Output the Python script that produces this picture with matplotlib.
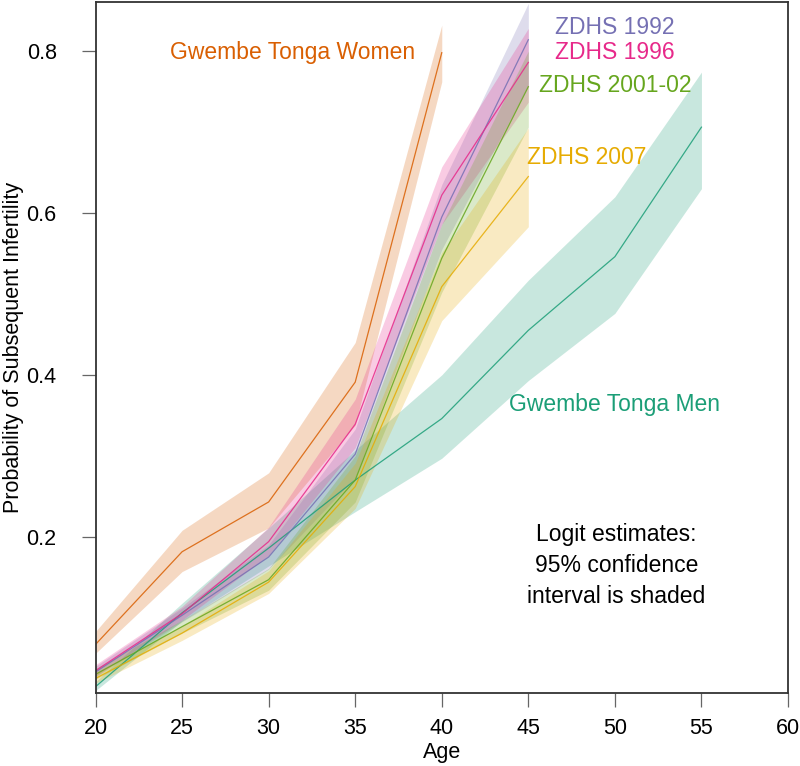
import matplotlib

matplotlib.use("Agg")
import matplotlib.pyplot as plt

plt.rcParams["font.family"] = ["Liberation Sans", "DejaVu Sans"]

# --- data (probability of subsequent infertility by age) ---
ages_w = [20, 25, 30, 35, 40]
ages_zdhs = [20, 25, 30, 35, 40, 45]
ages_m = [20, 25, 30, 35, 40, 45, 50, 55]

women = [0.067, 0.1815, 0.243, 0.391, 0.798]
women_lo = [0.056, 0.157, 0.211, 0.338, 0.762]
women_hi = [0.083, 0.208, 0.279, 0.440, 0.832]

men = [0.0148, 0.106, 0.186, 0.270, 0.346, 0.455, 0.546, 0.706]
men_lo = [0.010, 0.096, 0.164, 0.231, 0.297, 0.393, 0.476, 0.630]
men_hi = [0.021, 0.118, 0.211, 0.307, 0.400, 0.517, 0.620, 0.774]

z1992 = [0.033, 0.103, 0.175, 0.302, 0.595, 0.814]
z1992_lo = [0.027, 0.095, 0.160, 0.273, 0.555, 0.758]
z1992_hi = [0.040, 0.112, 0.190, 0.333, 0.635, 0.859]

z1996 = [0.0346, 0.105, 0.194, 0.339, 0.622, 0.786]
z1996_lo = [0.028, 0.097, 0.177, 0.310, 0.586, 0.737]
z1996_hi = [0.042, 0.114, 0.212, 0.370, 0.657, 0.828]

z2001 = [0.030, 0.089, 0.147, 0.270, 0.544, 0.756]
z2001_lo = [0.024, 0.081, 0.134, 0.243, 0.502, 0.706]
z2001_hi = [0.037, 0.097, 0.161, 0.300, 0.586, 0.800]

z2007 = [0.025, 0.081, 0.144, 0.262, 0.509, 0.645]
z2007_lo = [0.019, 0.072, 0.130, 0.235, 0.467, 0.583]
z2007_hi = [0.032, 0.090, 0.158, 0.291, 0.551, 0.705]

x_ticks = [20, 25, 30, 35, 40, 45, 50, 55, 60]
y_ticks = [0.2, 0.4, 0.6, 0.8]

# Dark2 colours
C_WOMEN, C_MEN = "#D95F02", "#1B9E77"
C_1992, C_1996, C_2001, C_2007 = "#7570B3", "#E7298A", "#66A61E", "#E6AB02"

series = [
    (ages_w, women, women_lo, women_hi, C_WOMEN),
    (ages_m, men, men_lo, men_hi, C_MEN),
    (ages_zdhs, z1992, z1992_lo, z1992_hi, C_1992),
    (ages_zdhs, z1996, z1996_lo, z1996_hi, C_1996),
    (ages_zdhs, z2001, z2001_lo, z2001_hi, C_2001),
    (ages_zdhs, z2007, z2007_lo, z2007_hi, C_2007),
]

fig = plt.figure(figsize=(8, 7.66), dpi=100)
ax = fig.add_axes([0.1194, 0.0957, 0.8656, 0.9021])

for x, y, lo, hi, c in series:
    ax.fill_between(x, lo, hi, color=c, alpha=0.24, linewidth=0)
for x, y, lo, hi, c in series:
    ax.plot(x, y, color=c, linewidth=0.9, alpha=0.85)

ax.set_xlim(20, 60)
ax.set_ylim(0.0074, 0.861)
ax.set_xticks(x_ticks)
ax.set_yticks(y_ticks)
ax.set_yticklabels([f"{v:.1f}" for v in y_ticks])

ax.tick_params(axis="both", direction="out", length=10, width=0.9, color="#666666",
               labelsize=15.5, labelcolor="black")
ax.tick_params(axis="x", pad=8)
ax.tick_params(axis="y", pad=18)
for s in ax.spines.values():
    s.set_color("#333333")
    s.set_linewidth(1.3)

ax.set_xlabel("Age", fontsize=15.5, va="center")
ax.xaxis.set_label_coords(0.5, -0.087)
ax.set_ylabel("Probability of Subsequent Infertility", fontsize=15.5, va="center")
ax.yaxis.set_label_coords(-0.118, 0.5)

lab = dict(fontsize=16.5, ha="center", va="center")
ax.text(31.4, 0.798, "Gwembe Tonga Women", color=C_WOMEN, **lab)
ax.text(50.0, 0.829, "ZDHS 1992", color=C_1992, **lab)
ax.text(50.0, 0.798, "ZDHS 1996", color=C_1996, **lab)
ax.text(50.0, 0.757, "ZDHS 2001-02", color=C_2001, **lab)
ax.text(48.4, 0.669, "ZDHS 2007", color=C_2007, **lab)
ax.text(50.0, 0.363, "Gwembe Tonga Men", color=C_MEN, **lab)
ax.text(50.1, 0.165, "Logit estimates:\n95% confidence\ninterval is shaded",
        color="black", fontsize=16.5, ha="center", va="center", linespacing=1.45)

fig.savefig("out.png", dpi=100)
